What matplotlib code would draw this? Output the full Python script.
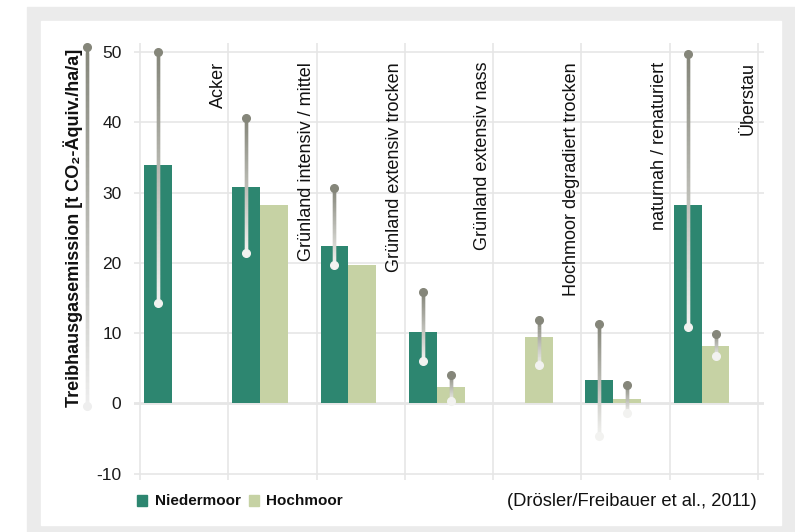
import matplotlib

matplotlib.use("Agg")
import matplotlib.pyplot as plt
import numpy as np
from matplotlib.collections import LineCollection
from matplotlib.colors import to_rgb
from matplotlib.patches import Rectangle

plt.rcParams["font.family"] = ["Liberation Sans", "DejaVu Sans"]
plt.rcParams["axes.unicode_minus"] = False

categories = [
    "Acker",
    "Grünland intensiv / mittel",
    "Grünland extensiv trocken",
    "Grünland extensiv nass",
    "Hochmoor degradiert trocken",
    "naturnah / renaturiert",
    "Überstau",
]
nieder = [34.0, 30.8, 22.4, 10.2, None, 3.3, 28.3]
nieder_hi = [50.0, 40.6, 30.7, 15.9, None, 11.3, 49.7]
nieder_lo = [14.3, 21.4, 19.7, 6.0, None, -4.7, 10.9]
hoch = [None, 28.3, 19.7, 2.3, 9.5, 0.6, 8.2]
hoch_hi = [None, None, None, 4.0, 11.9, 2.6, 9.9]
hoch_lo = [None, None, None, 0.4, 5.4, -1.4, 6.7]
yticks = [-10, 0, 10, 20, 30, 40, 50]

C_NIEDER = "#2d8670"
C_HOCH = "#c6d2a4"
C_GRID = "#e6e6e6"
C_DARK = "#85867a"
C_LIGHT = "#f2f2f0"


def gradient_line(ax, x, y_top, y_bot, lw=2.4, n=60, end=C_LIGHT, **kw):
    ys = np.linspace(y_top, y_bot, n + 1)
    # overlapping pieces so no antialiasing seams show between them
    segs = [[(x, ys[i]), (x, ys[min(i + 2, n)])] for i in range(n)]
    c0, c1 = np.array(to_rgb(C_DARK)), np.array(to_rgb(end))
    t = np.linspace(0, 1, n)[:, None]
    cols = c0 * (1 - t) + c1 * t
    ax.add_collection(LineCollection(segs, colors=cols, linewidths=lw,
                                     capstyle="butt", zorder=4, **kw))
    ax.plot([x], [y_top], "o", ms=5.5, color=C_DARK, zorder=5, **kw)
    ax.plot([x], [y_bot], "o", ms=5.5, color=end, zorder=5, **kw)


fig = plt.figure(figsize=(7.95, 5.32), dpi=100)
W, H = 795, 532
fig.patches.append(Rectangle((27 / W, 0), 1, 1 - 7 / H, transform=fig.transFigure,
                             color="#ebebeb", zorder=-10))
fig.patches.append(Rectangle((41 / W, 7 / H), (781 - 41) / W, (525 - 21) / H,
                             transform=fig.transFigure, color="white", zorder=-9))

ax = fig.add_axes([134 / W, 1 - 480 / H, (764 - 134) / W, (480 - 43) / H])
ax.set_facecolor("none")
ax.set_xlim(-0.068, 7.068)
ax.set_ylim(-10.9, 51.3)
for s in ax.spines.values():
    s.set_visible(False)
ax.set_xticks([])
ax.set_yticks(yticks)
ax.tick_params(axis="y", length=0, pad=9, labelsize=12.5, labelcolor="#1a1a1a")
for v in yticks:
    ax.axhline(v, color=C_GRID, lw=2.0 if v == 0 else 1.2, zorder=0)
for g in range(len(categories) + 1):
    ax.axvline(g, color=C_GRID, lw=1.2, zorder=0)

bw = 0.316
for i, cat in enumerate(categories):
    xn = i + 0.045 + bw / 2
    xh = xn + bw
    if nieder[i] is not None:
        ax.bar(xn, nieder[i], width=bw, color=C_NIEDER, zorder=2)
    if hoch[i] is not None:
        ax.bar(xh, hoch[i], width=bw, color=C_HOCH, zorder=2)
    if nieder_hi[i] is not None:
        gradient_line(ax, xn, nieder_hi[i], nieder_lo[i])
    if hoch_hi[i] is not None:
        gradient_line(ax, xh, hoch_hi[i], hoch_lo[i])
    ax.text(i + 0.885, 48.6, cat, rotation=90, ha="center", va="top",
            fontsize=13, color="#111111", zorder=3)

# range indicator next to the axis label
gradient_line(ax, -0.60, 50.7, -0.4, clip_on=False, end="#eeeeee")
fig.text(73 / W, 1 - 228 / H, "Treibhausgasemission [t CO₂-Äquiv./ha/a]",
         rotation=90, ha="center", va="center", fontsize=13,
         fontweight="bold", color="#111111")

# legend
ly = 1 - 501 / H
fig.patches.append(Rectangle((137 / W, ly - 5 / H), 10 / W, 11 / H,
                             transform=fig.transFigure, color=C_NIEDER))
fig.text(155 / W, ly, "Niedermoor", ha="left", va="center", fontsize=11,
         fontweight="bold", color="#111111")
fig.patches.append(Rectangle((249 / W, ly - 5 / H), 10 / W, 11 / H,
                             transform=fig.transFigure, color=C_HOCH))
fig.text(266 / W, ly, "Hochmoor", ha="left", va="center", fontsize=11,
         fontweight="bold", color="#111111")
fig.text(757 / W, ly, "(Drösler/Freibauer et al., 2011)", ha="right",
         va="center", fontsize=13.2, color="#111111")

fig.savefig("out.png", dpi=100)
